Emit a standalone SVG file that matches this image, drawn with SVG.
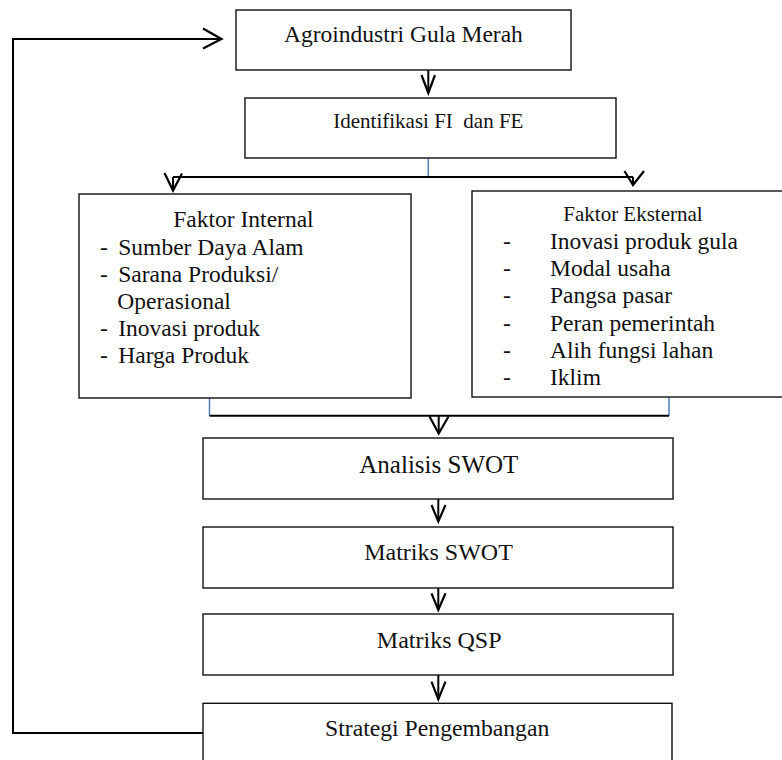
<svg xmlns="http://www.w3.org/2000/svg" width="782" height="760" viewBox="0 0 782 760" font-family="Liberation Serif, Times New Roman, serif">
<style>
.box{fill:#fff;stroke:#111;stroke-width:1.4}
.c{text-anchor:middle}
.ln{fill:none;stroke:#000;stroke-width:2}
.lb{fill:none;stroke:#4f81bd;stroke-width:1.5}
.ah{fill:none;stroke:#000;stroke-width:2.2;stroke-linejoin:miter}
</style>
<rect width="782" height="760" fill="#fff"/>
<g id="connectors">
<polyline class="ln" points="203,733 13,733 13,39 221,39"/>
<polyline class="ah" points="203,28.5 221.5,39 203,48.5"/>
<line class="ln" x1="428.3" y1="70" x2="428.3" y2="93"/>
<polyline class="ah" points="421.5,75 428.3,93 435,75"/>
<line class="lb" x1="428.3" y1="158" x2="428.3" y2="177"/>
<line class="ln" x1="173" y1="177" x2="633" y2="177"/>
<line class="ln" x1="173" y1="177" x2="173" y2="190"/>
<polyline class="ah" points="164.5,173 173,190.5 182,173.5"/>
<line class="ln" x1="633" y1="177" x2="633" y2="185"/>
<polyline class="ah" points="624.5,171 633,185 644,171"/>
<line class="lb" x1="209.5" y1="398" x2="209.5" y2="415.7"/>
<line class="lb" x1="669" y1="397" x2="669" y2="415.7"/>
<line class="ln" x1="209.5" y1="415.7" x2="669" y2="415.7"/>
<line class="ln" x1="438.7" y1="415.7" x2="438.7" y2="433.5"/>
<polyline class="ah" points="429.5,416.5 438.7,433.5 448.5,416.5"/>
<line class="ln" x1="438.3" y1="499" x2="438.3" y2="521"/>
<polyline class="ah" points="431.5,505 438.3,521.5 445.5,505"/>
<line class="ln" x1="438.3" y1="588" x2="438.3" y2="609.5"/>
<polyline class="ah" points="431.5,593.3 438.3,610 445.5,593.3"/>
<line class="ln" x1="438.3" y1="675" x2="438.3" y2="699"/>
<polyline class="ah" points="431.5,681.7 438.3,699.3 445.5,681.7"/>
</g>
<g id="agroindustri">
<rect class="box" x="236" y="10" width="335" height="60"/>
<text class="c" x="403.4" y="41.7" font-size="23.5" fill="#111">Agroindustri Gula Merah</text>
</g>
<g id="identifikasi">
<rect class="box" x="245" y="98" width="371" height="60"/>
<text x="333.3" y="127.7" font-size="21" fill="#111" xml:space="preserve" style="white-space:pre">Identifikasi FI  dan FE</text>
</g>
<g id="faktor-internal">
<rect class="box" x="79" y="194" width="332" height="204"/>
<text x="173.3" y="227.3" font-size="23.5" fill="#111">Faktor Internal</text>
<text font-size="23.5" fill="#111">
<tspan x="100" y="255">-</tspan>
<tspan x="100" y="282">-</tspan>
<tspan x="100" y="336">-</tspan>
<tspan x="100" y="363">-</tspan>
</text>
<text x="118.3" y="255" font-size="23.5" fill="#111">Sumber Daya Alam</text>
<text x="118.3" y="282" font-size="23.5" fill="#111">Sarana Produksi/</text>
<text x="117.3" y="309" font-size="23.5" fill="#111">Operasional</text>
<text x="118.3" y="336" font-size="23.5" fill="#111">Inovasi produk</text>
<text x="118.3" y="363" font-size="23.5" fill="#111">Harga Produk</text>
</g>
<g id="faktor-eksternal">
<rect class="box" x="472" y="191" width="320" height="206"/>
<text x="563.3" y="221" font-size="21" fill="#111">Faktor Eksternal</text>
<text font-size="23.5" fill="#111">
<tspan x="503" y="249">-</tspan>
<tspan x="503" y="276">-</tspan>
<tspan x="503" y="303.3">-</tspan>
<tspan x="503" y="330.7">-</tspan>
<tspan x="503" y="358.3">-</tspan>
<tspan x="503" y="385">-</tspan>
</text>
<text x="550" y="249" font-size="23.5" fill="#111">Inovasi produk gula</text>
<text x="550" y="276" font-size="23.5" fill="#111">Modal usaha</text>
<text x="550" y="303.3" font-size="23.5" fill="#111">Pangsa pasar</text>
<text x="550" y="330.7" font-size="23.5" fill="#111">Peran pemerintah</text>
<text x="550" y="358.3" font-size="23.5" fill="#111">Alih fungsi lahan</text>
<text x="550" y="385" font-size="23.5" fill="#111">Iklim</text>
</g>
<g id="analisis-swot">
<rect class="box" x="203" y="438" width="470" height="61"/>
<text class="c" x="438.8" y="473.3" font-size="25" fill="#111">Analisis SWOT</text>
</g>
<g id="matriks-swot">
<rect class="box" x="203" y="527" width="470" height="61"/>
<text class="c" x="438.5" y="560" font-size="24" fill="#111">Matriks SWOT</text>
</g>
<g id="matriks-qsp">
<rect class="box" x="203" y="614" width="470" height="61"/>
<text class="c" x="439.2" y="647.7" font-size="24" fill="#111">Matriks QSP</text>
</g>
<g id="strategi">
<rect class="box" x="203" y="703.3" width="469" height="70"/>
<text x="325" y="735.7" font-size="23.7" fill="#111">Strategi Pengembangan</text>
</g>
</svg>
